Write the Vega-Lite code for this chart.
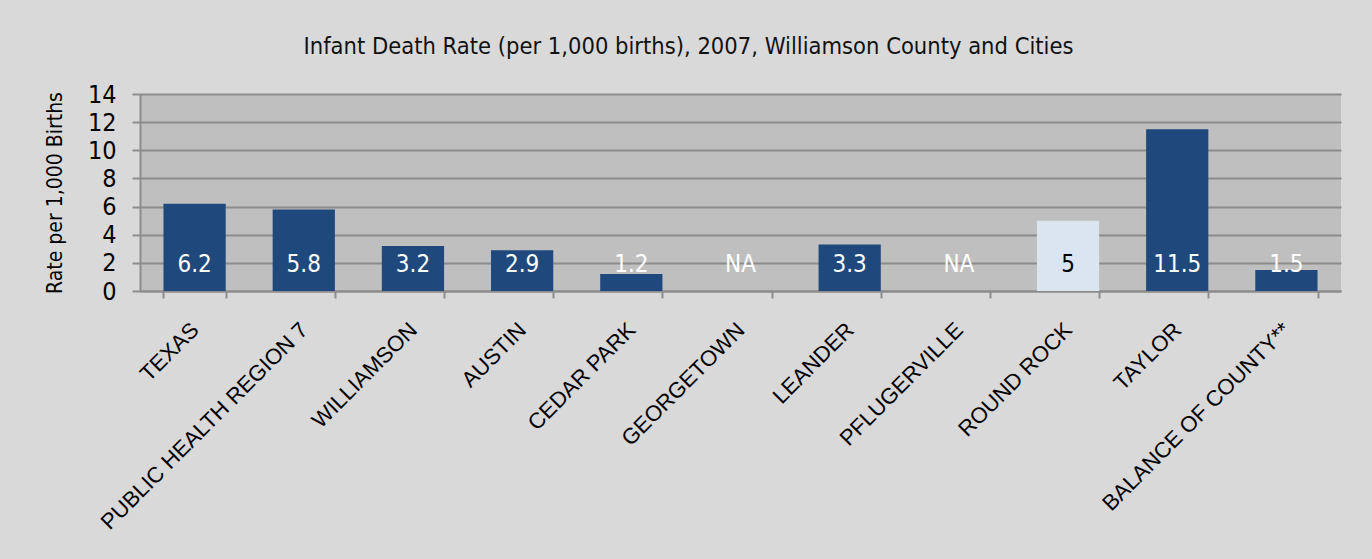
{
  "$schema": "https://vega.github.io/schema/vega-lite/v6.json",
  "autosize": {"type": "none"},
  "width": 1201,
  "height": 197,
  "padding": {"left": 140, "top": 94, "right": 31, "bottom": 268},
  "background": "#d9d9d9",
  "title": {
    "text": "Infant Death Rate (per 1,000 births), 2007, Williamson County and Cities",
    "font": "DejaVu Sans Condensed, Liberation Sans Narrow, sans-serif",
    "fontSize": 23.5,
    "fontWeight": "normal",
    "color": "#111111",
    "anchor": "middle",
    "dx": -52,
    "offset": 24
  },
  "config": {
    "view": {"fill": "#bfbfbf", "stroke": null},
    "axisY": {
      "titleFont": "DejaVu Sans Condensed, Liberation Sans Narrow, sans-serif",
      "titleFontSize": 21,
      "titleFontWeight": "normal",
      "titleColor": "#000000",
      "titlePadding": 22,
      "labelFont": "DejaVu Sans Condensed, Liberation Sans Narrow, sans-serif",
      "labelFontSize": 25,
      "labelColor": "#000000",
      "labelPadding": 16,
      "labelOverlap": false,
      "tickSize": 8,
      "tickColor": "#8c8c8c",
      "tickWidth": 2,
      "domainColor": "#8c8c8c",
      "domainWidth": 2,
      "grid": true,
      "gridColor": "#8c8c8c",
      "gridWidth": 2
    }
  },
  "data": {
    "values": [
      {"city": "TEXAS", "rate": 6.2, "label": "6.2"},
      {"city": "PUBLIC HEALTH REGION 7", "rate": 5.8, "label": "5.8"},
      {"city": "WILLIAMSON", "rate": 3.2, "label": "3.2"},
      {"city": "AUSTIN", "rate": 2.9, "label": "2.9"},
      {"city": "CEDAR PARK", "rate": 1.2, "label": "1.2"},
      {"city": "GEORGETOWN", "rate": null, "label": "NA"},
      {"city": "LEANDER", "rate": 3.3, "label": "3.3"},
      {"city": "PFLUGERVILLE", "rate": null, "label": "NA"},
      {"city": "ROUND ROCK", "rate": 5, "label": "5"},
      {"city": "TAYLOR", "rate": 11.5, "label": "11.5"},
      {"city": "BALANCE OF COUNTY**", "rate": 1.5, "label": "1.5"}
    ]
  },
  "encoding": {
    "x": {
      "field": "city",
      "type": "nominal",
      "sort": null,
      "scale": {
        "domain": ["TEXAS", "PUBLIC HEALTH REGION 7", "WILLIAMSON", "AUSTIN", "CEDAR PARK", "GEORGETOWN", "LEANDER", "PFLUGERVILLE", "ROUND ROCK", "TAYLOR", "BALANCE OF COUNTY**"],
        "paddingInner": 0.43,
        "paddingOuter": 0.215
      },
      "axis": {
        "title": null,
        "labelAngle": -45,
        "labelAlign": "right",
        "labelBaseline": "middle",
        "labelFont": "Liberation Sans, Arial, sans-serif",
        "labelFontSize": 22,
        "labelColor": "#000000",
        "labelLimit": 500,
        "labelOverlap": false,
        "labelPadding": 28,
        "tickBand": "extent",
        "tickSize": 7,
        "tickColor": "#8c8c8c",
        "tickWidth": 2,
        "domainColor": "#8c8c8c",
        "domainWidth": 2,
        "grid": false
      }
    }
  },
  "layer": [
    {
      "mark": {"type": "bar"},
      "encoding": {
        "y": {
          "field": "rate",
          "type": "quantitative",
          "scale": {"domain": [0, 14], "nice": false},
          "axis": {
            "title": "Rate per 1,000 Births",
            "values": [0, 2, 4, 6, 8, 10, 12, 14],
            "labelOverlap": false
          }
        },
        "color": {
          "condition": {"test": "datum.city === 'ROUND ROCK'", "value": "#dbe5f1"},
          "value": "#1f497d"
        }
      }
    },
    {
      "mark": {
        "type": "text",
        "baseline": "middle",
        "align": "center",
        "font": "DejaVu Sans Condensed, Liberation Sans Narrow, sans-serif",
        "fontSize": 24
      },
      "encoding": {
        "y": {
          "datum": 1.85,
          "type": "quantitative",
          "axis": {
            "title": "Rate per 1,000 Births",
            "values": [0, 2, 4, 6, 8, 10, 12, 14],
            "labelOverlap": false
          }
        },
        "text": {"field": "label"},
        "color": {
          "condition": {"test": "datum.city === 'ROUND ROCK'", "value": "#000000"},
          "value": "#ffffff"
        }
      }
    }
  ]
}
